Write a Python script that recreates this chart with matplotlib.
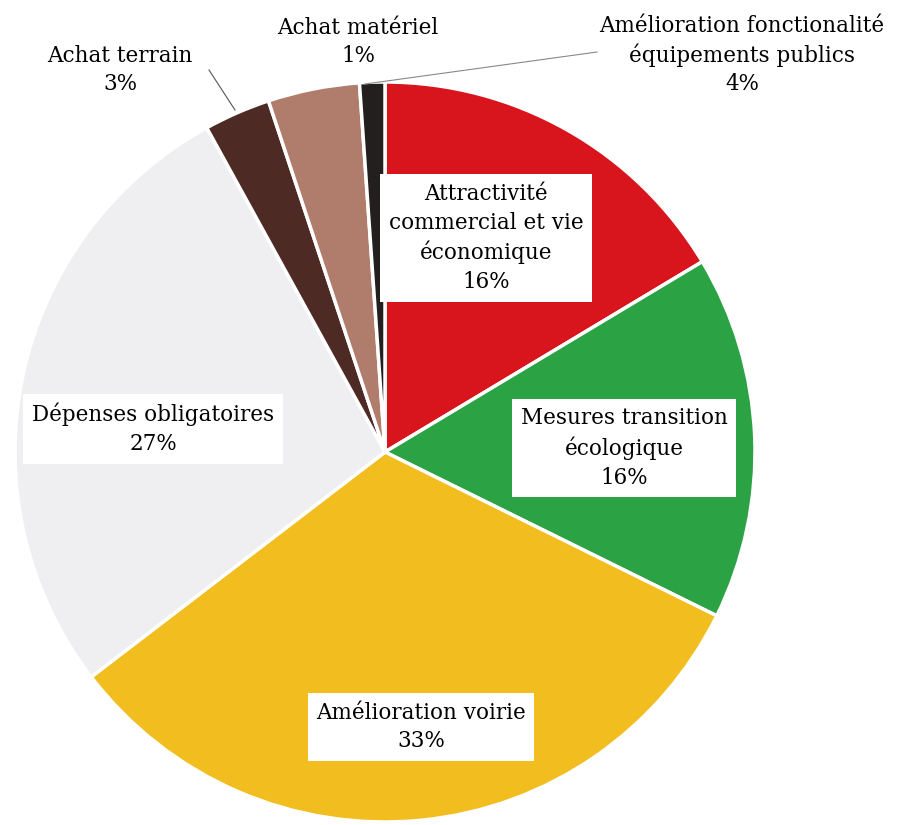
import matplotlib
matplotlib.use("Agg")
from matplotlib import pyplot as plt

# slice data, clockwise from 12 o'clock
labels = ["Attractivité\ncommercial et vie\néconomique",
          "Mesures transition\nécologique",
          "Amélioration voirie",
          "Dépenses obligatoires",
          "Achat terrain",
          "Amélioration fonctionalité\néquipements publics",
          "Achat matériel"]
shares = [16.4, 15.9, 32.3, 27.4, 2.9, 4.0, 1.1]
shown = ["16%", "16%", "33%", "27%", "3%", "4%", "1%"]
colors = ["#d8141c", "#2ba243", "#f2bd1e", "#efeef1", "#4d2a24", "#b07d6d", "#231f1f"]

plt.rcParams['font.family'] = ['DejaVu Serif']

fig = plt.figure(figsize=(9.09, 8.25), dpi=100)
ax = fig.add_axes([0, 0, 1, 1])

cx, cy, r = 385, 825 - 452, 370
wedges, _ = ax.pie(shares, colors=colors, startangle=90, counterclock=False,
                   center=(cx, cy), radius=r, frame=True,
                   wedgeprops=dict(edgecolor="white", linewidth=2.5))
ax.set_xlim(0, 909)
ax.set_ylim(0, 825)
ax.set_aspect("equal")
ax.axis("off")

box = dict(boxstyle="square,pad=0.4", facecolor="white", edgecolor="none")
fs = 15.5

# labels inside boxes (image coordinates -> flipped y)
inside = {0: (486, 238), 1: (624, 448), 2: (421, 727), 3: (153, 429)}
for i, (x, y) in inside.items():
    ax.text(x, 825 - y, labels[i] + "\n" + shown[i], ha="center", va="center",
            fontsize=fs, bbox=box, linespacing=1.4)

# outside labels
ax.text(120, 825 - 70, labels[4] + "\n" + shown[4], ha="center", va="center",
        fontsize=fs, linespacing=1.35)
ax.text(358, 825 - 42, labels[6] + "\n" + shown[6], ha="center", va="center",
        fontsize=fs, linespacing=1.35)
ax.text(742, 825 - 55, labels[5] + "\n" + shown[5], ha="center", va="center",
        fontsize=fs, linespacing=1.35)

# leader lines
ax.plot([209, 235], [825 - 70, 825 - 110], color="#555555", lw=0.8)
ax.plot([597, 365], [825 - 52, 825 - 84], color="#888888", lw=0.8)

fig.savefig("out.png", dpi=100)
